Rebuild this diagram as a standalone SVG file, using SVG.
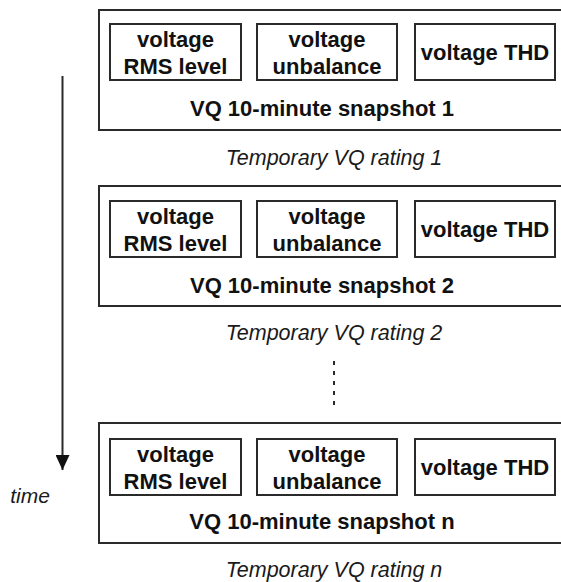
<svg xmlns="http://www.w3.org/2000/svg" width="561" height="582" viewBox="0 0 561 582">
<style>
.outer{fill:#fff;stroke:#2a2a2a;stroke-width:2}
.inner{fill:#fff;stroke:#2a2a2a;stroke-width:2}
.b{font-family:"Liberation Sans",Arial,sans-serif;font-weight:bold;font-size:22px;fill:#111;text-anchor:middle}
.i{font-family:"Liberation Sans",Arial,sans-serif;font-style:italic;font-size:21.5px;fill:#1a1a1a;text-anchor:middle}
.conn{stroke:#2a2a2a;stroke-width:2;fill:none}
</style>
<defs>
<marker id="ah" markerWidth="14" markerHeight="16" refX="7" refY="15" orient="0" markerUnits="userSpaceOnUse">
<path d="M0,0 L14,0 L7,15 Z" fill="#111"/>
</marker>
<g id="snap">
<rect class="inner" x="110" y="0" width="131" height="56"/>
<text class="b" x="175.5" y="23">voltage</text>
<text class="b" x="175.5" y="50">RMS level</text>
<rect class="inner" x="257" y="0" width="140" height="56"/>
<text class="b" x="327" y="23">voltage</text>
<text class="b" x="327" y="50">unbalance</text>
<rect class="inner" x="415" y="0" width="140" height="56"/>
<text class="b" x="485" y="36">voltage THD</text>
</g>
</defs>
<g id="snapshot1">
<rect class="outer" x="99" y="10" width="472" height="120"/>
<use href="#snap" y="24"/>
<text class="b" x="322" y="116">VQ 10-minute snapshot 1</text>
</g>
<text id="rating1" class="i" x="334" y="165">Temporary VQ rating 1</text>
<g id="snapshot2">
<rect class="outer" x="99" y="186" width="472" height="120"/>
<use href="#snap" y="201"/>
<text class="b" x="322" y="293">VQ 10-minute snapshot 2</text>
</g>
<text id="rating2" class="i" x="334" y="340">Temporary VQ rating 2</text>
<g id="snapshotn">
<rect class="outer" x="99" y="423" width="472" height="120"/>
<use href="#snap" y="439"/>
<text class="b" x="322" y="529">VQ 10-minute snapshot n</text>
</g>
<text id="ratingn" class="i" x="334" y="577">Temporary VQ rating n</text>
<g id="connectors">
<line class="conn" x1="334" y1="361" x2="334" y2="411" stroke-dasharray="4 6"/>
<line class="conn" x1="62.5" y1="76" x2="62.5" y2="470" marker-end="url(#ah)"/>
</g>
<text id="time" class="i" x="30" y="503" style="font-size:21px">time</text>
</svg>
